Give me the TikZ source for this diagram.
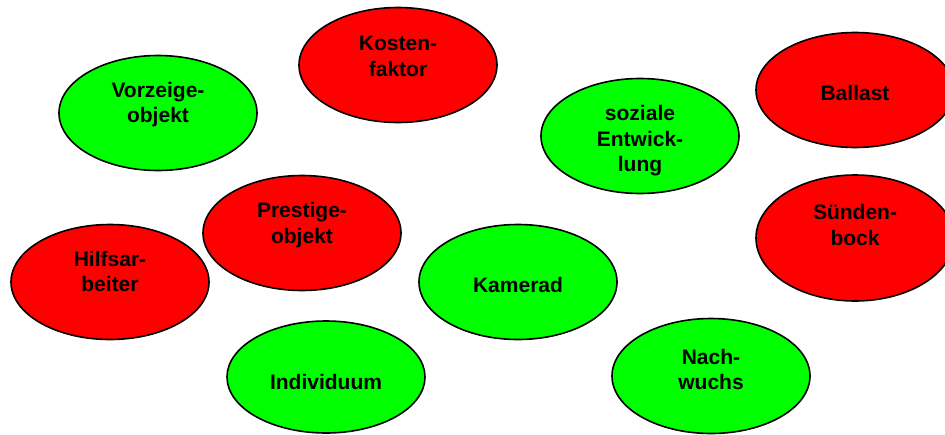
\documentclass[tikz,border=0pt]{standalone}
\usepackage{fontspec}
\setmainfont{Liberation Sans}
\usetikzlibrary{shapes.geometric}

\definecolor{neg}{RGB}{255,0,0}
\definecolor{pos}{RGB}{0,255,0}

\tikzset{
  blob/.style={ellipse, draw=black, line width=1.6pt, inner sep=0pt,
               minimum width=198pt, minimum height=115pt},
  negblob/.style={blob, fill=neg},
  posblob/.style={blob, fill=pos},
  word/.style={font=\fontsize{21}{25.5}\selectfont\bfseries, align=center,
               inner sep=0pt, text=black}
}

\begin{document}
\begin{tikzpicture}[x=1pt, y=-1pt]
  \useasboundingbox (0,0) rectangle (945,434);

  % ellipses
  \node[negblob] (kosten)   at (398,65)  {};
  \node[posblob] (vorzeige) at (158,113) {};
  \node[negblob] (ballast)  at (855,90)  {};
  \node[posblob] (sozial)   at (640,136) {};
  \node[negblob, minimum height=126pt] (suenden) at (855,238) {};
  \node[negblob] (prestige) at (302,233) {};
  \node[negblob] (hilfs)    at (110,282) {};
  \node[posblob] (kamerad)  at (518,282) {};
  \node[posblob, minimum height=112pt] (indiv) at (326,377) {};
  \node[posblob] (nach)     at (711,376) {};

  % labels
  \node[word, yshift=8.5pt]  (tkosten)   at (kosten)   {Kosten-\\faktor};
  \node[word, yshift=8.5pt]  (tvorzeige) at (vorzeige) {Vorzeige-\\objekt};
  \node[word, yshift=-3pt]   (tballast)  at (ballast)  {Ballast};
  \node[word, yshift=-5pt]   (tsozial)   at (sozial)   {soziale\\Entwick-\\lung};
  \node[word, yshift=13pt]   (tsuenden)  at (suenden)  {Sünden-\\bock};
  \node[word, yshift=8pt]    (tprestige) at (prestige) {Prestige-\\objekt};
  \node[word, yshift=10.5pt] (thilfs)    at (hilfs)    {Hilfsar-\\beiter};
  \node[word, yshift=-3pt]   (tkamerad)  at (kamerad)  {Kamerad};
  \node[word, yshift=-5pt]   (tindiv)    at (indiv)    {Individuum};
  \node[word, yshift=6.5pt]  (tnach)     at (nach)     {Nach-\\wuchs};
\end{tikzpicture}
\end{document}
